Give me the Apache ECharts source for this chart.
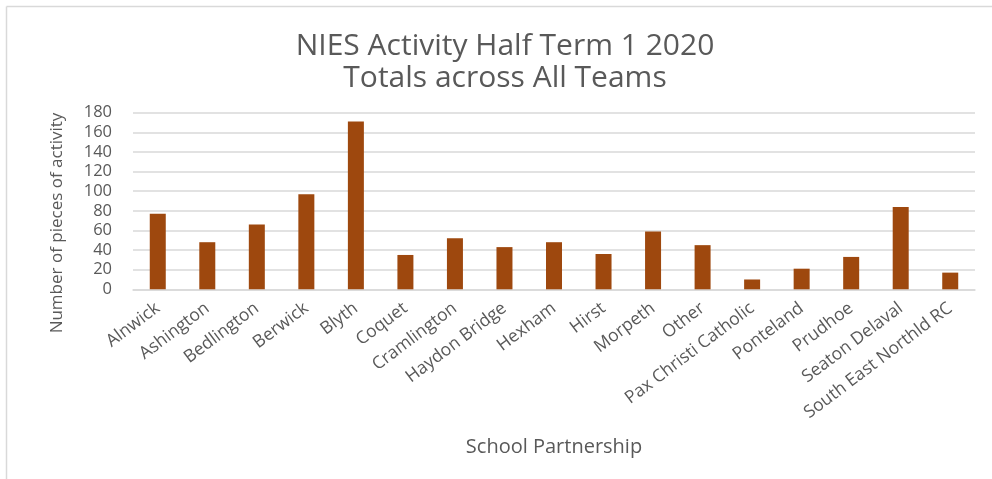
<!DOCTYPE html>
<html>
<head>
<meta charset="utf-8">
<script src="https://cdn.jsdelivr.net/npm/echarts@6/dist/echarts.min.js"></script>
<style>
html,body{margin:0;padding:0;background:#fff;}
#chart{width:992px;height:479px;}
</style>
</head>
<body>
<div id="chart"></div>
<script>
const categories = ["Alnwick","Ashington","Bedlington","Berwick","Blyth","Coquet","Cramlington","Haydon Bridge","Hexham","Hirst","Morpeth","Other","Pax Christi Catholic","Ponteland","Prudhoe","Seaton Delaval","South East Northld RC"];
const values = [77,48,66,97,171,35,52,43,48,36,59,45,10,21,33,84,17];
const yTicks = [0,20,40,60,80,100,120,140,160,180];
const titleLines = ["NIES Activity Half Term 1 2020","Totals across All Teams"];
const xAxisTitle = "School Partnership";
const yAxisTitle = "Number of pieces of activity";

const chart = echarts.init(document.getElementById('chart'), null, {renderer:'canvas'});
const txt = '#595959';
const font = '"Open Sans", sans-serif';
chart.setOption({
  animation:false,
  backgroundColor:'#fff',
  title:{
    text: titleLines.join('\n'),
    top:25, left:500, textAlign:'center',
    textStyle:{fontFamily:font, fontSize:30, fontWeight:'normal', color:txt, lineHeight:32.5}
  },
  grid:{left:133, right:17, top:112.7, bottom:189.7, containLabel:false},
  xAxis:{
    type:'category', data:categories,
    name:xAxisTitle, nameLocation:'middle', nameGap:148,
    nameTextStyle:{fontFamily:font, fontSize:20, color:txt},
    axisLine:{lineStyle:{color:'#d9d9d9', width:1.5}},
    axisTick:{show:false},
    axisLabel:{rotate:37, interval:0, fontFamily:font, fontSize:17.5, color:txt, margin:17}
  },
  yAxis:{
    type:'value', min:yTicks[0], max:yTicks[yTicks.length-1], interval:20,
    axisLine:{show:false}, axisTick:{show:false},
    axisLabel:{fontFamily:font, fontSize:16.5, color:txt, margin:21},
    splitLine:{lineStyle:{color:'#d9d9d9', width:1.5}}
  },
  series:[{
    type:'bar', data:values, barWidth:16,
    itemStyle:{color:'#9e480e'}
  }],
  graphic:[
    {type:'line', shape:{x1:6.5,y1:6.5,x2:992,y2:6.5}, style:{stroke:'#d9d9d9', lineWidth:1.5}, silent:true},
    {type:'line', shape:{x1:6.5,y1:6.5,x2:6.5,y2:479}, style:{stroke:'#d9d9d9', lineWidth:1.5}, silent:true},
    {type:'text', x:57, y:223, rotation:Math.PI/2,
     style:{text:yAxisTitle, fontFamily:font, fontSize:17, fill:txt, align:'center', verticalAlign:'middle'}, silent:true}
  ]
});
</script>
</body>
</html>
